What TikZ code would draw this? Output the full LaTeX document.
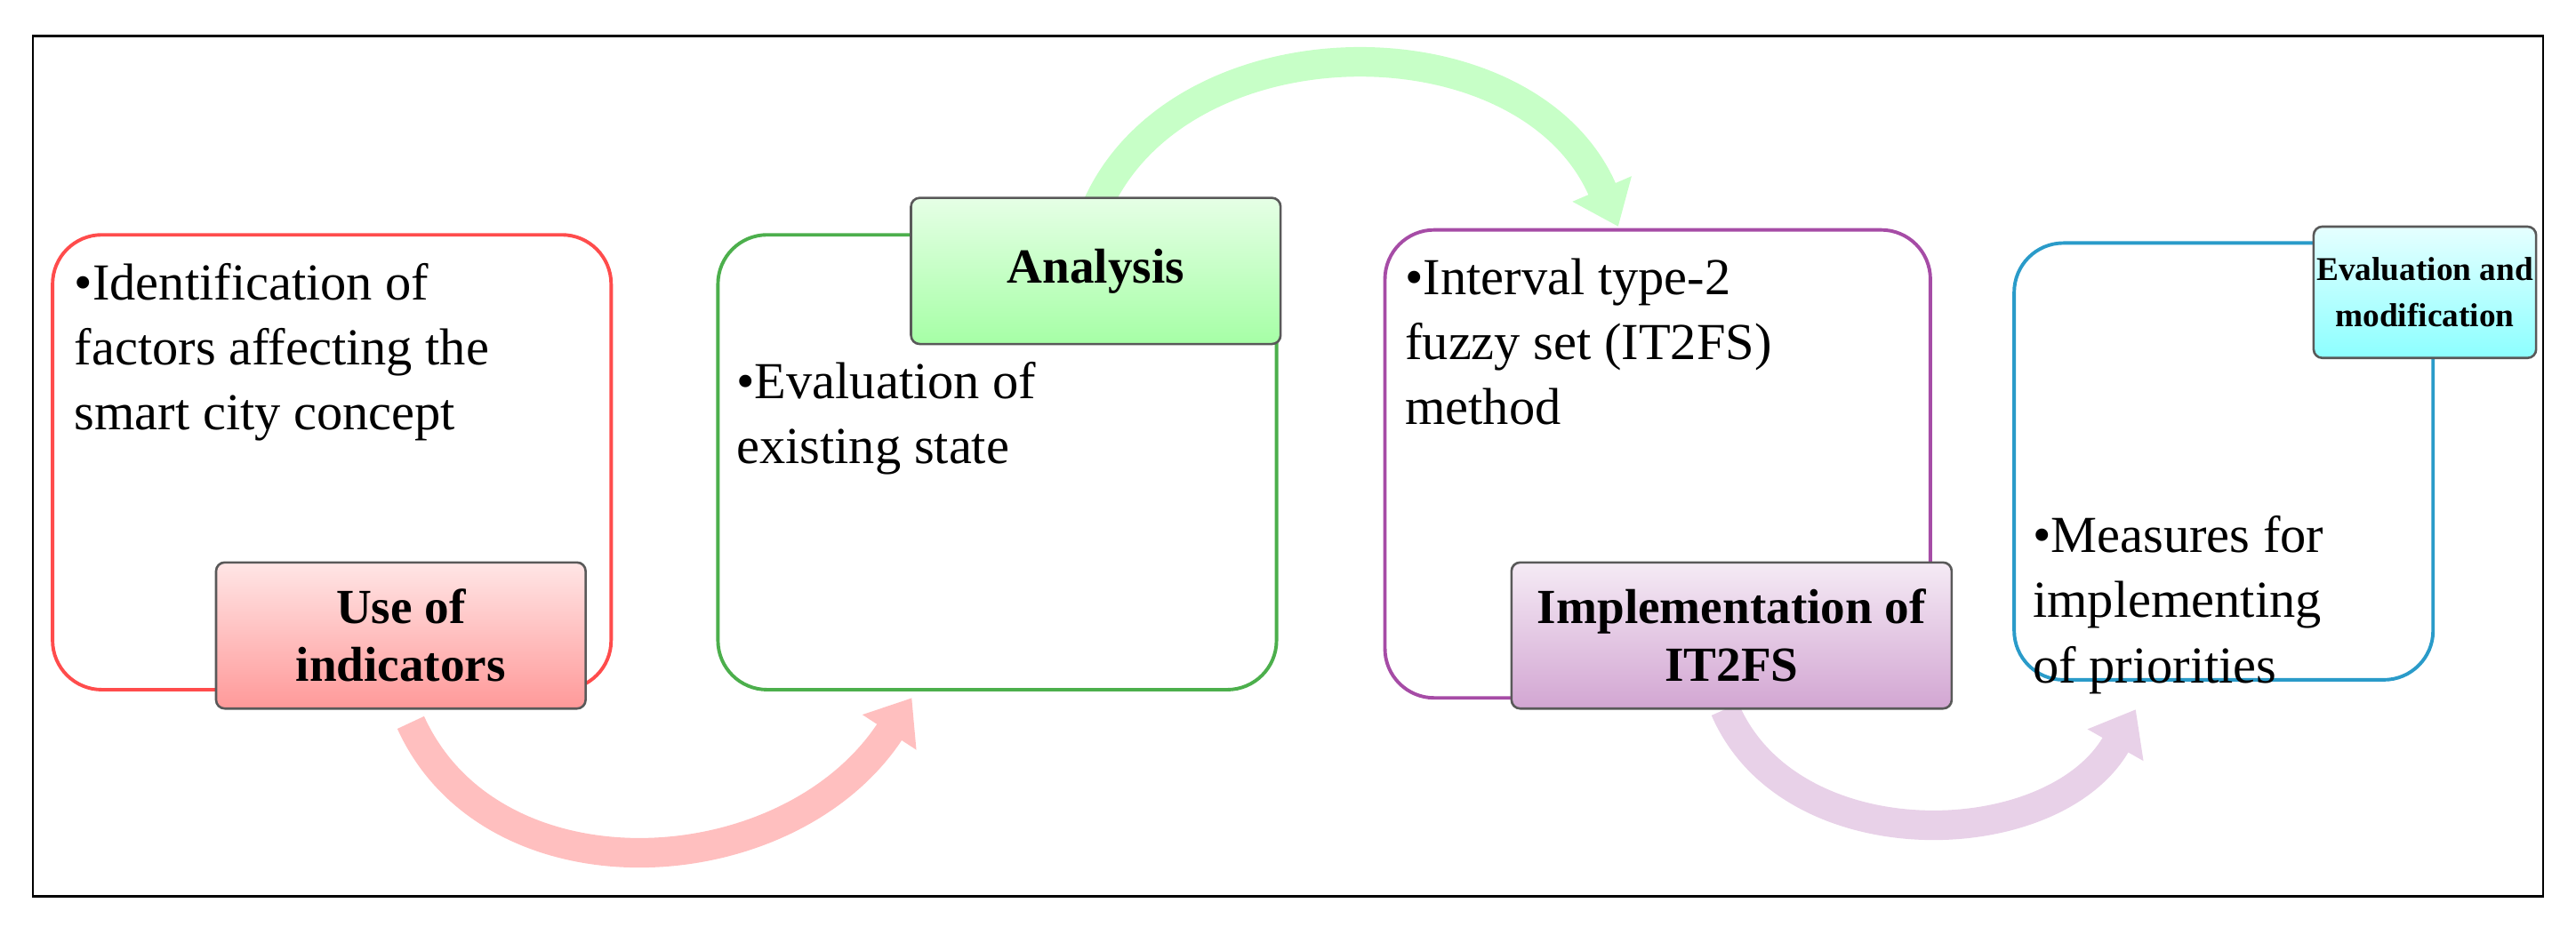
\documentclass[tikz,border=0pt]{standalone}
\usepackage{fontspec}
\setmainfont{Liberation Serif}
\usetikzlibrary{arrows.meta}
\begin{document}
\begin{tikzpicture}[x=0.02cm,y=-0.02cm,
 box/.style={rounded corners=0.6cm,line width=1.2pt,fill=white},
 lab/.style={rounded corners=3pt,draw=gray!70!black,line width=0.8pt,font=\fontsize{17}{20}\selectfont\bfseries,align=center,inner sep=2pt},
 txt/.style={anchor=north west,align=left,font=\fontsize{18}{22.5}\selectfont,inner sep=0pt},
 flow/.style={line width=0.36cm,-{Triangle[width=0.75cm,length=0.5cm]}}]
\useasboundingbox (0,0) rectangle (1568,564);
\draw[line width=0.8pt] (20,22) rectangle (1548,546);
% arrows
\coordinate (a1) at (250,440); \coordinate (a2) at (555,425);
\draw[flow,draw=red!25] (a1) .. controls (300,550) and (480,540) .. (a2);
\coordinate (b1) at (668,125); \coordinate (b2) at (985,138);
\draw[flow,draw=green!22] (b1) .. controls (720,10) and (930,10) .. (b2);
\coordinate (c1) at (1050,432); \coordinate (c2) at (1300,432);
\draw[flow,draw=violet!18] (c1) .. controls (1090,525) and (1250,520) .. (c2);
% boxes
\draw[box,draw=red!70] (32,143) rectangle (372,420);
\draw[box,draw=green!55!black!70] (437,143) rectangle (777,420);
\draw[box,draw=violet!70] (843,140) rectangle (1175,425);
\draw[box,draw=cyan!80!black] (1226,148) rectangle (1481,414);
% texts
\node[txt] (t1) at (45,160) {•Identification of\\factors affecting the\\smart city concept};
\node[txt] (t2) at (448,220) {•Evaluation of\\existing state};
\node[txt] (t3) at (855,157) {•Interval type-2\\fuzzy set (IT2FS)\\method};
\node[txt] (t4) at (1237,314) {•Measures for\\implementing\\of priorities};
% labels
\node[lab,top color=red!10,bottom color=red!40,minimum width=4.5cm,minimum height=1.78cm] (l1) at (244,387) {Use of\\indicators};
\node[lab,top color=green!10,bottom color=green!35,minimum width=4.5cm,minimum height=1.78cm] (l2) at (667,165) {Analysis};
\node[lab,top color=violet!8,bottom color=violet!35,minimum width=5.36cm,minimum height=1.78cm] (l3) at (1054,387) {Implementation of\\IT2FS};
\node[lab,top color=cyan!10,bottom color=cyan!45,minimum width=2.46cm,minimum height=1.6cm,inner sep=1pt,font=\fontsize{11.5}{16}\selectfont\bfseries] (l4) at (1476,178) {Evaluation and\\modification};
\end{tikzpicture}
\end{document}
